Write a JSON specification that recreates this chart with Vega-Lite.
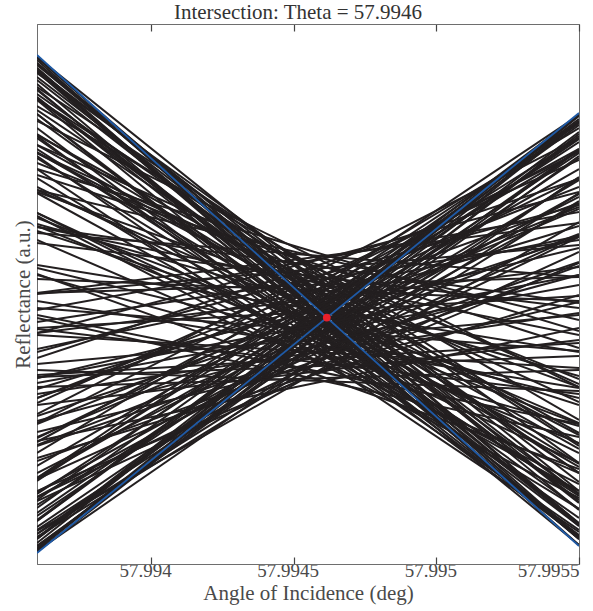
{
  "$schema": "https://vega.github.io/schema/vega-lite/v6.json",
  "autosize": "none",
  "width": 542,
  "height": 540,
  "padding": {"left": 37, "top": 24, "right": 14, "bottom": 47},
  "background": "white",
  "config": {
    "font": "Liberation Serif",
    "view": {"stroke": "#6e6e6e", "strokeWidth": 1},
    "axis": {"grid": false}
  },
  "title": {
    "text": "Intersection: Theta = 57.9946",
    "font": "Liberation Serif",
    "fontSize": 21,
    "fontWeight": "normal",
    "color": "#333333",
    "anchor": "middle",
    "offset": 0,
    "dx": -10
  },
  "datasets": {
    "curves": [
      {"g":"s","id":"d1a","x":57.9936,"y":0.496},{"g":"s","id":"d1a","x":57.9955,"y":0.019},
      {"g":"s","id":"d1b","x":57.9936,"y":0.504},{"g":"s","id":"d1b","x":57.9955,"y":0.027},
      {"g":"s","id":"d2a","x":57.9936,"y":0.492},{"g":"s","id":"d2a","x":57.9955,"y":0.026},
      {"g":"s","id":"d2b","x":57.9936,"y":0.506},{"g":"s","id":"d2b","x":57.9955,"y":0.040},
      {"g":"s","id":"d3a","x":57.9936,"y":0.480},{"g":"s","id":"d3a","x":57.9955,"y":0.025},
      {"g":"s","id":"d3b","x":57.9936,"y":0.493},{"g":"s","id":"d3b","x":57.9955,"y":0.038},
      {"g":"s","id":"d4a","x":57.9936,"y":0.464},{"g":"s","id":"d4a","x":57.9955,"y":0.019},
      {"g":"s","id":"d4b","x":57.9936,"y":0.499},{"g":"s","id":"d4b","x":57.9955,"y":0.054},
      {"g":"s","id":"d5a","x":57.9936,"y":0.474},{"g":"s","id":"d5a","x":57.9955,"y":0.041},
      {"g":"s","id":"d5b","x":57.9936,"y":0.507},{"g":"s","id":"d5b","x":57.9955,"y":0.073},
      {"g":"s","id":"d6a","x":57.9936,"y":0.450},{"g":"s","id":"d6a","x":57.9955,"y":0.028},
      {"g":"s","id":"d6b","x":57.9936,"y":0.484},{"g":"s","id":"d6b","x":57.9955,"y":0.061},
      {"g":"s","id":"d7a","x":57.9936,"y":0.450},{"g":"s","id":"d7a","x":57.9955,"y":0.038},
      {"g":"s","id":"d7b","x":57.9936,"y":0.494},{"g":"s","id":"d7b","x":57.9955,"y":0.082},
      {"g":"s","id":"d8a","x":57.9936,"y":0.428},{"g":"s","id":"d8a","x":57.9955,"y":0.027},
      {"g":"s","id":"d8b","x":57.9936,"y":0.465},{"g":"s","id":"d8b","x":57.9955,"y":0.064},
      {"g":"s","id":"d9a","x":57.9936,"y":0.445},{"g":"s","id":"d9a","x":57.9955,"y":0.055},
      {"g":"s","id":"d9b","x":57.9936,"y":0.491},{"g":"s","id":"d9b","x":57.9955,"y":0.101},
      {"g":"s","id":"d10a","x":57.9936,"y":0.426},{"g":"s","id":"d10a","x":57.9955,"y":0.046},
      {"g":"s","id":"d10b","x":57.9936,"y":0.470},{"g":"s","id":"d10b","x":57.9955,"y":0.091},
      {"g":"s","id":"d11a","x":57.9936,"y":0.395},{"g":"s","id":"d11a","x":57.9955,"y":0.032},
      {"g":"s","id":"d11b","x":57.9936,"y":0.454},{"g":"s","id":"d11b","x":57.9955,"y":0.091},
      {"g":"s","id":"d12a","x":57.9936,"y":0.415},{"g":"s","id":"d12a","x":57.9955,"y":0.068},
      {"g":"s","id":"d12b","x":57.9936,"y":0.465},{"g":"s","id":"d12b","x":57.9955,"y":0.118},
      {"g":"s","id":"d13a","x":57.9936,"y":0.386},{"g":"s","id":"d13a","x":57.9955,"y":0.055},
      {"g":"s","id":"d13b","x":57.9936,"y":0.430},{"g":"s","id":"d13b","x":57.9955,"y":0.100},
      {"g":"s","id":"d14a","x":57.9936,"y":0.412},{"g":"s","id":"d14a","x":57.9955,"y":0.097},
      {"g":"s","id":"d14b","x":57.9936,"y":0.458},{"g":"s","id":"d14b","x":57.9955,"y":0.144},
      {"g":"s","id":"d15a","x":57.9936,"y":0.371},{"g":"s","id":"d15a","x":57.9955,"y":0.073},
      {"g":"s","id":"d15b","x":57.9936,"y":0.429},{"g":"s","id":"d15b","x":57.9955,"y":0.131},
      {"g":"s","id":"d16a","x":57.9936,"y":0.348},{"g":"s","id":"d16a","x":57.9955,"y":0.066},
      {"g":"s","id":"d16b","x":57.9936,"y":0.411},{"g":"s","id":"d16b","x":57.9955,"y":0.129},
      {"g":"s","id":"d17a","x":57.9936,"y":0.377},{"g":"s","id":"d17a","x":57.9955,"y":0.111},
      {"g":"s","id":"d17b","x":57.9936,"y":0.443},{"g":"s","id":"d17b","x":57.9955,"y":0.177},
      {"g":"s","id":"d18a","x":57.9936,"y":0.351},{"g":"s","id":"d18a","x":57.9955,"y":0.101},
      {"g":"s","id":"d18b","x":57.9936,"y":0.411},{"g":"s","id":"d18b","x":57.9955,"y":0.162},
      {"g":"s","id":"d19a","x":57.9936,"y":0.324},{"g":"s","id":"d19a","x":57.9955,"y":0.091},
      {"g":"s","id":"d19b","x":57.9936,"y":0.374},{"g":"s","id":"d19b","x":57.9955,"y":0.141},
      {"g":"s","id":"d20a","x":57.9936,"y":0.338},{"g":"s","id":"d20a","x":57.9955,"y":0.121},
      {"g":"s","id":"d20b","x":57.9936,"y":0.401},{"g":"s","id":"d20b","x":57.9955,"y":0.185},
      {"g":"s","id":"d21a","x":57.9936,"y":0.290},{"g":"s","id":"d21a","x":57.9955,"y":0.095},
      {"g":"s","id":"d21b","x":57.9936,"y":0.372},{"g":"s","id":"d21b","x":57.9955,"y":0.177},
      {"g":"s","id":"d22a","x":57.9936,"y":0.333},{"g":"s","id":"d22a","x":57.9955,"y":0.159},
      {"g":"s","id":"d22b","x":57.9936,"y":0.389},{"g":"s","id":"d22b","x":57.9955,"y":0.216},
      {"g":"s","id":"d23a","x":57.9936,"y":0.289},{"g":"s","id":"d23a","x":57.9955,"y":0.138},
      {"g":"s","id":"d23b","x":57.9936,"y":0.340},{"g":"s","id":"d23b","x":57.9955,"y":0.188},
      {"g":"s","id":"d24a","x":57.9936,"y":0.296},{"g":"s","id":"d24a","x":57.9955,"y":0.166},
      {"g":"s","id":"d24b","x":57.9936,"y":0.374},{"g":"s","id":"d24b","x":57.9955,"y":0.244},
      {"g":"s","id":"d25a","x":57.9936,"y":0.249},{"g":"s","id":"d25a","x":57.9955,"y":0.140},
      {"g":"s","id":"d25b","x":57.9936,"y":0.337},{"g":"s","id":"d25b","x":57.9955,"y":0.229},
      {"g":"s","id":"d26a","x":57.9936,"y":0.263},{"g":"s","id":"d26a","x":57.9955,"y":0.176},
      {"g":"s","id":"d26b","x":57.9936,"y":0.299},{"g":"s","id":"d26b","x":57.9955,"y":0.212},
      {"g":"s","id":"d27a","x":57.9936,"y":0.235},{"g":"s","id":"d27a","x":57.9955,"y":0.170},
      {"g":"s","id":"d27b","x":57.9936,"y":0.321},{"g":"s","id":"d27b","x":57.9955,"y":0.256},
      {"g":"s","id":"d28a","x":57.9936,"y":0.256},{"g":"s","id":"d28a","x":57.9955,"y":0.213},
      {"g":"s","id":"d28b","x":57.9936,"y":0.331},{"g":"s","id":"d28b","x":57.9955,"y":0.287},
      {"g":"s","id":"d29a","x":57.9936,"y":0.194},{"g":"s","id":"d29a","x":57.9955,"y":0.173},
      {"g":"s","id":"d29b","x":57.9936,"y":0.285},{"g":"s","id":"d29b","x":57.9955,"y":0.263},
      {"g":"s","id":"e1","x":57.9936,"y":0.496},{"g":"s","id":"e1","x":57.9955,"y":0.025},
      {"g":"s","id":"e2","x":57.9936,"y":0.501},{"g":"s","id":"e2","x":57.9955,"y":0.040},
      {"g":"s","id":"e3","x":57.9936,"y":0.475},{"g":"s","id":"e3","x":57.9955,"y":0.025},
      {"g":"s","id":"e4","x":57.9936,"y":0.501},{"g":"s","id":"e4","x":57.9955,"y":0.062},
      {"g":"s","id":"e5","x":57.9936,"y":0.467},{"g":"s","id":"e5","x":57.9955,"y":0.039},
      {"g":"s","id":"e6","x":57.9936,"y":0.487},{"g":"s","id":"e6","x":57.9955,"y":0.070},
      {"g":"s","id":"e7","x":57.9936,"y":0.436},{"g":"s","id":"e7","x":57.9955,"y":0.029},
      {"g":"s","id":"e8","x":57.9936,"y":0.466},{"g":"s","id":"e8","x":57.9955,"y":0.070},
      {"g":"s","id":"e9","x":57.9936,"y":0.408},{"g":"s","id":"e9","x":57.9955,"y":0.034},
      {"g":"s","id":"e10","x":57.9936,"y":0.477},{"g":"s","id":"e10","x":57.9955,"y":0.120},
      {"g":"s","id":"e11","x":57.9936,"y":0.406},{"g":"s","id":"e11","x":57.9955,"y":0.070},
      {"g":"s","id":"e12","x":57.9936,"y":0.419},{"g":"s","id":"e12","x":57.9955,"y":0.115},
      {"g":"s","id":"e13","x":57.9936,"y":0.351},{"g":"s","id":"e13","x":57.9955,"y":0.080},
      {"g":"s","id":"e14","x":57.9936,"y":0.419},{"g":"s","id":"e14","x":57.9955,"y":0.180},
      {"g":"s","id":"e15","x":57.9936,"y":0.346},{"g":"s","id":"e15","x":57.9955,"y":0.140},
      {"g":"s","id":"e16","x":57.9936,"y":0.395},{"g":"s","id":"e16","x":57.9955,"y":0.233},
      {"g":"s","id":"e17","x":57.9936,"y":0.246},{"g":"s","id":"e17","x":57.9955,"y":0.127},
      {"g":"s","id":"e18","x":57.9936,"y":0.337},{"g":"s","id":"e18","x":57.9955,"y":0.261},
      {"g":"s","id":"e19","x":57.9936,"y":0.229},{"g":"s","id":"e19","x":57.9955,"y":0.196},
      {"g":"s","id":"a1a","x":57.9936,"y":0.014},{"g":"s","id":"a1a","x":57.9955,"y":0.442},
      {"g":"s","id":"a1b","x":57.9936,"y":0.021},{"g":"s","id":"a1b","x":57.9955,"y":0.449},
      {"g":"s","id":"a2a","x":57.9936,"y":0.012},{"g":"s","id":"a2a","x":57.9955,"y":0.430},
      {"g":"s","id":"a2b","x":57.9936,"y":0.025},{"g":"s","id":"a2b","x":57.9955,"y":0.443},
      {"g":"s","id":"a3a","x":57.9936,"y":0.025},{"g":"s","id":"a3a","x":57.9955,"y":0.432},
      {"g":"s","id":"a3b","x":57.9936,"y":0.043},{"g":"s","id":"a3b","x":57.9955,"y":0.449},
      {"g":"s","id":"a4a","x":57.9936,"y":0.018},{"g":"s","id":"a4a","x":57.9955,"y":0.414},
      {"g":"s","id":"a4b","x":57.9936,"y":0.043},{"g":"s","id":"a4b","x":57.9955,"y":0.439},
      {"g":"s","id":"a5a","x":57.9936,"y":0.030},{"g":"s","id":"a5a","x":57.9955,"y":0.415},
      {"g":"s","id":"a5b","x":57.9936,"y":0.056},{"g":"s","id":"a5b","x":57.9955,"y":0.441},
      {"g":"s","id":"a6a","x":57.9936,"y":0.013},{"g":"s","id":"a6a","x":57.9955,"y":0.387},
      {"g":"s","id":"a6b","x":57.9936,"y":0.051},{"g":"s","id":"a6b","x":57.9955,"y":0.425},
      {"g":"s","id":"a7a","x":57.9936,"y":0.048},{"g":"s","id":"a7a","x":57.9955,"y":0.411},
      {"g":"s","id":"a7b","x":57.9936,"y":0.086},{"g":"s","id":"a7b","x":57.9955,"y":0.449},
      {"g":"s","id":"a8a","x":57.9936,"y":0.034},{"g":"s","id":"a8a","x":57.9955,"y":0.386},
      {"g":"s","id":"a8b","x":57.9936,"y":0.070},{"g":"s","id":"a8b","x":57.9955,"y":0.422},
      {"g":"s","id":"a9a","x":57.9936,"y":0.030},{"g":"s","id":"a9a","x":57.9955,"y":0.371},
      {"g":"s","id":"a9b","x":57.9936,"y":0.085},{"g":"s","id":"a9b","x":57.9955,"y":0.426},
      {"g":"s","id":"a10a","x":57.9936,"y":0.059},{"g":"s","id":"a10a","x":57.9955,"y":0.384},
      {"g":"s","id":"a10b","x":57.9936,"y":0.111},{"g":"s","id":"a10b","x":57.9955,"y":0.436},
      {"g":"s","id":"a11a","x":57.9936,"y":0.033},{"g":"s","id":"a11a","x":57.9955,"y":0.342},
      {"g":"s","id":"a11b","x":57.9936,"y":0.086},{"g":"s","id":"a11b","x":57.9955,"y":0.395},
      {"g":"s","id":"a12a","x":57.9936,"y":0.067},{"g":"s","id":"a12a","x":57.9955,"y":0.360},
      {"g":"s","id":"a12b","x":57.9936,"y":0.122},{"g":"s","id":"a12b","x":57.9955,"y":0.415},
      {"g":"s","id":"a13a","x":57.9936,"y":0.091},{"g":"s","id":"a13a","x":57.9955,"y":0.367},
      {"g":"s","id":"a13b","x":57.9936,"y":0.150},{"g":"s","id":"a13b","x":57.9955,"y":0.426},
      {"g":"s","id":"a14a","x":57.9936,"y":0.067},{"g":"s","id":"a14a","x":57.9955,"y":0.327},
      {"g":"s","id":"a14b","x":57.9936,"y":0.126},{"g":"s","id":"a14b","x":57.9955,"y":0.386},
      {"g":"s","id":"a15a","x":57.9936,"y":0.085},{"g":"s","id":"a15a","x":57.9955,"y":0.329},
      {"g":"s","id":"a15b","x":57.9936,"y":0.161},{"g":"s","id":"a15b","x":57.9955,"y":0.404},
      {"g":"s","id":"a16a","x":57.9936,"y":0.073},{"g":"s","id":"a16a","x":57.9955,"y":0.301},
      {"g":"s","id":"a16b","x":57.9936,"y":0.127},{"g":"s","id":"a16b","x":57.9955,"y":0.355},
      {"g":"s","id":"a17a","x":57.9936,"y":0.119},{"g":"s","id":"a17a","x":57.9955,"y":0.330},
      {"g":"s","id":"a17b","x":57.9936,"y":0.166},{"g":"s","id":"a17b","x":57.9955,"y":0.377},
      {"g":"s","id":"a18a","x":57.9936,"y":0.103},{"g":"s","id":"a18a","x":57.9955,"y":0.298},
      {"g":"s","id":"a18b","x":57.9936,"y":0.166},{"g":"s","id":"a18b","x":57.9955,"y":0.361},
      {"g":"s","id":"a19a","x":57.9936,"y":0.148},{"g":"s","id":"a19a","x":57.9955,"y":0.327},
      {"g":"s","id":"a19b","x":57.9936,"y":0.206},{"g":"s","id":"a19b","x":57.9955,"y":0.385},
      {"g":"s","id":"a20a","x":57.9936,"y":0.106},{"g":"s","id":"a20a","x":57.9955,"y":0.269},
      {"g":"s","id":"a20b","x":57.9936,"y":0.175},{"g":"s","id":"a20b","x":57.9955,"y":0.338},
      {"g":"s","id":"a21a","x":57.9936,"y":0.143},{"g":"s","id":"a21a","x":57.9955,"y":0.289},
      {"g":"s","id":"a21b","x":57.9936,"y":0.212},{"g":"s","id":"a21b","x":57.9955,"y":0.359},
      {"g":"s","id":"a22a","x":57.9936,"y":0.132},{"g":"s","id":"a22a","x":57.9955,"y":0.262},
      {"g":"s","id":"a22b","x":57.9936,"y":0.186},{"g":"s","id":"a22b","x":57.9955,"y":0.316},
      {"g":"s","id":"a23a","x":57.9936,"y":0.123},{"g":"s","id":"a23a","x":57.9955,"y":0.236},
      {"g":"s","id":"a23b","x":57.9936,"y":0.215},{"g":"s","id":"a23b","x":57.9955,"y":0.328},
      {"g":"s","id":"a24a","x":57.9936,"y":0.181},{"g":"s","id":"a24a","x":57.9955,"y":0.279},
      {"g":"s","id":"a24b","x":57.9936,"y":0.254},{"g":"s","id":"a24b","x":57.9955,"y":0.352},
      {"g":"s","id":"a25a","x":57.9936,"y":0.170},{"g":"s","id":"a25a","x":57.9955,"y":0.251},
      {"g":"s","id":"a25b","x":57.9936,"y":0.242},{"g":"s","id":"a25b","x":57.9955,"y":0.324},
      {"g":"s","id":"a26a","x":57.9936,"y":0.159},{"g":"s","id":"a26a","x":57.9955,"y":0.224},
      {"g":"s","id":"a26b","x":57.9936,"y":0.231},{"g":"s","id":"a26b","x":57.9955,"y":0.297},
      {"g":"s","id":"a27a","x":57.9936,"y":0.200},{"g":"s","id":"a27a","x":57.9955,"y":0.249},
      {"g":"s","id":"a27b","x":57.9936,"y":0.270},{"g":"s","id":"a27b","x":57.9955,"y":0.319},
      {"g":"s","id":"a28a","x":57.9936,"y":0.189},{"g":"s","id":"a28a","x":57.9955,"y":0.221},
      {"g":"s","id":"a28b","x":57.9936,"y":0.236},{"g":"s","id":"a28b","x":57.9955,"y":0.268},
      {"g":"s","id":"a29a","x":57.9936,"y":0.177},{"g":"s","id":"a29a","x":57.9955,"y":0.194},
      {"g":"s","id":"a29b","x":57.9936,"y":0.271},{"g":"s","id":"a29b","x":57.9955,"y":0.287},
      {"g":"s","id":"f1","x":57.9936,"y":0.015},{"g":"s","id":"f1","x":57.9955,"y":0.448},
      {"g":"s","id":"f2","x":57.9936,"y":0.026},{"g":"s","id":"f2","x":57.9955,"y":0.449},
      {"g":"s","id":"f3","x":57.9936,"y":0.016},{"g":"s","id":"f3","x":57.9955,"y":0.428},
      {"g":"s","id":"f4","x":57.9936,"y":0.044},{"g":"s","id":"f4","x":57.9955,"y":0.445},
      {"g":"s","id":"f5","x":57.9936,"y":0.018},{"g":"s","id":"f5","x":57.9955,"y":0.408},
      {"g":"s","id":"f6","x":57.9936,"y":0.064},{"g":"s","id":"f6","x":57.9955,"y":0.443},
      {"g":"s","id":"f7","x":57.9936,"y":0.037},{"g":"s","id":"f7","x":57.9955,"y":0.406},
      {"g":"s","id":"f8","x":57.9936,"y":0.083},{"g":"s","id":"f8","x":57.9955,"y":0.441},
      {"g":"s","id":"f9","x":57.9936,"y":0.027},{"g":"s","id":"f9","x":57.9955,"y":0.363},
      {"g":"s","id":"f10","x":57.9936,"y":0.098},{"g":"s","id":"f10","x":57.9955,"y":0.413},
      {"g":"s","id":"f11","x":57.9936,"y":0.072},{"g":"s","id":"f11","x":57.9955,"y":0.370},
      {"g":"s","id":"f12","x":57.9936,"y":0.141},{"g":"s","id":"f12","x":57.9955,"y":0.412},
      {"g":"s","id":"f13","x":57.9936,"y":0.063},{"g":"s","id":"f13","x":57.9955,"y":0.312},
      {"g":"s","id":"f14","x":57.9936,"y":0.140},{"g":"s","id":"f14","x":57.9955,"y":0.357},
      {"g":"s","id":"f15","x":57.9936,"y":0.118},{"g":"s","id":"f15","x":57.9955,"y":0.302},
      {"g":"s","id":"f16","x":57.9936,"y":0.231},{"g":"s","id":"f16","x":57.9955,"y":0.372},
      {"g":"s","id":"f17","x":57.9936,"y":0.186},{"g":"s","id":"f17","x":57.9955,"y":0.289},
      {"g":"s","id":"f18","x":57.9936,"y":0.271},{"g":"s","id":"f18","x":57.9955,"y":0.341},
      {"g":"s","id":"f19","x":57.9936,"y":0.187},{"g":"s","id":"f19","x":57.9955,"y":0.208},
      {"g":"f","id":"fitDown","x":57.9936,"y":0.509},{"g":"f","id":"fitDown","x":57.9955,"y":0.018},
      {"g":"f","id":"fitUp","x":57.9936,"y":0.011},{"g":"f","id":"fitUp","x":57.9955,"y":0.451}
    ],
    "crossing": [
      {"x": 57.994616, "y": 0.2464}
    ]
  },
  "resolve": {"axis": {"x": "independent"}},
  "layer": [
    {
      "data": {"name": "curves"},
      "transform": [{"filter": "datum.g === 's'"}],
      "mark": {"type": "line", "color": "#231f20", "strokeWidth": 2, "clip": true},
      "encoding": {
        "detail": {"field": "id", "type": "nominal"},
        "x": {
          "field": "x", "type": "quantitative",
          "scale": {"domain": [57.9936, 57.9955], "nice": false, "zero": false},
          "axis": {
            "orient": "bottom",
            "values": [57.994, 57.9945, 57.995, 57.9955],
            "format": ".4~f",
            "title": "Angle of Incidence (deg)",
            "titleFont": "Liberation Serif",
            "titleFontSize": 21,
            "titleFontWeight": "normal",
            "titleColor": "#4a4a4a",
            "titlePadding": 2,
            "labelFont": "Liberation Serif",
            "labelFontSize": 19,
            "labelColor": "#4a4a4a",
            "labelPadding": 4,
            "labelOffset": -6,
            "labelFlush": true,
            "labelFlushOffset": 6,
            "ticks": true,
            "tickSize": -7,
            "tickWidth": 1.2,
            "tickColor": "#444444",
            "domainColor": "#6e6e6e"
          }
        },
        "y": {
          "field": "y", "type": "quantitative",
          "scale": {"domain": [0, 0.54], "nice": false, "zero": false},
          "axis": {
            "title": "Reflectance (a.u.)",
            "titleFont": "Liberation Serif",
            "titleFontSize": 21,
            "titleFontWeight": "normal",
            "titleColor": "#4a4a4a",
            "titlePadding": 4,
            "labels": false,
            "ticks": false,
            "domainColor": "#6e6e6e"
          }
        }
      }
    },
    {
      "data": {"name": "curves"},
      "transform": [{"filter": "datum.g === 'f'"}],
      "mark": {"type": "line", "color": "#1f5aa6", "strokeWidth": 1.8, "clip": true},
      "encoding": {
        "detail": {"field": "id", "type": "nominal"},
        "x": {"field": "x", "type": "quantitative", "axis": null},
        "y": {"field": "y", "type": "quantitative"}
      }
    },
    {
      "data": {"name": "crossing"},
      "mark": {"type": "point", "filled": true, "color": "#e8202a", "opacity": 1, "size": 60},
      "encoding": {
        "x": {
          "field": "x", "type": "quantitative",
          "axis": {
            "orient": "top",
            "values": [57.994, 57.9945, 57.995, 57.9955],
            "labels": false,
            "title": null,
            "ticks": true,
            "tickSize": -7,
            "tickWidth": 1.2,
            "tickColor": "#444444",
            "domainColor": "#6e6e6e"
          }
        },
        "y": {"field": "y", "type": "quantitative"}
      }
    }
  ]
}
